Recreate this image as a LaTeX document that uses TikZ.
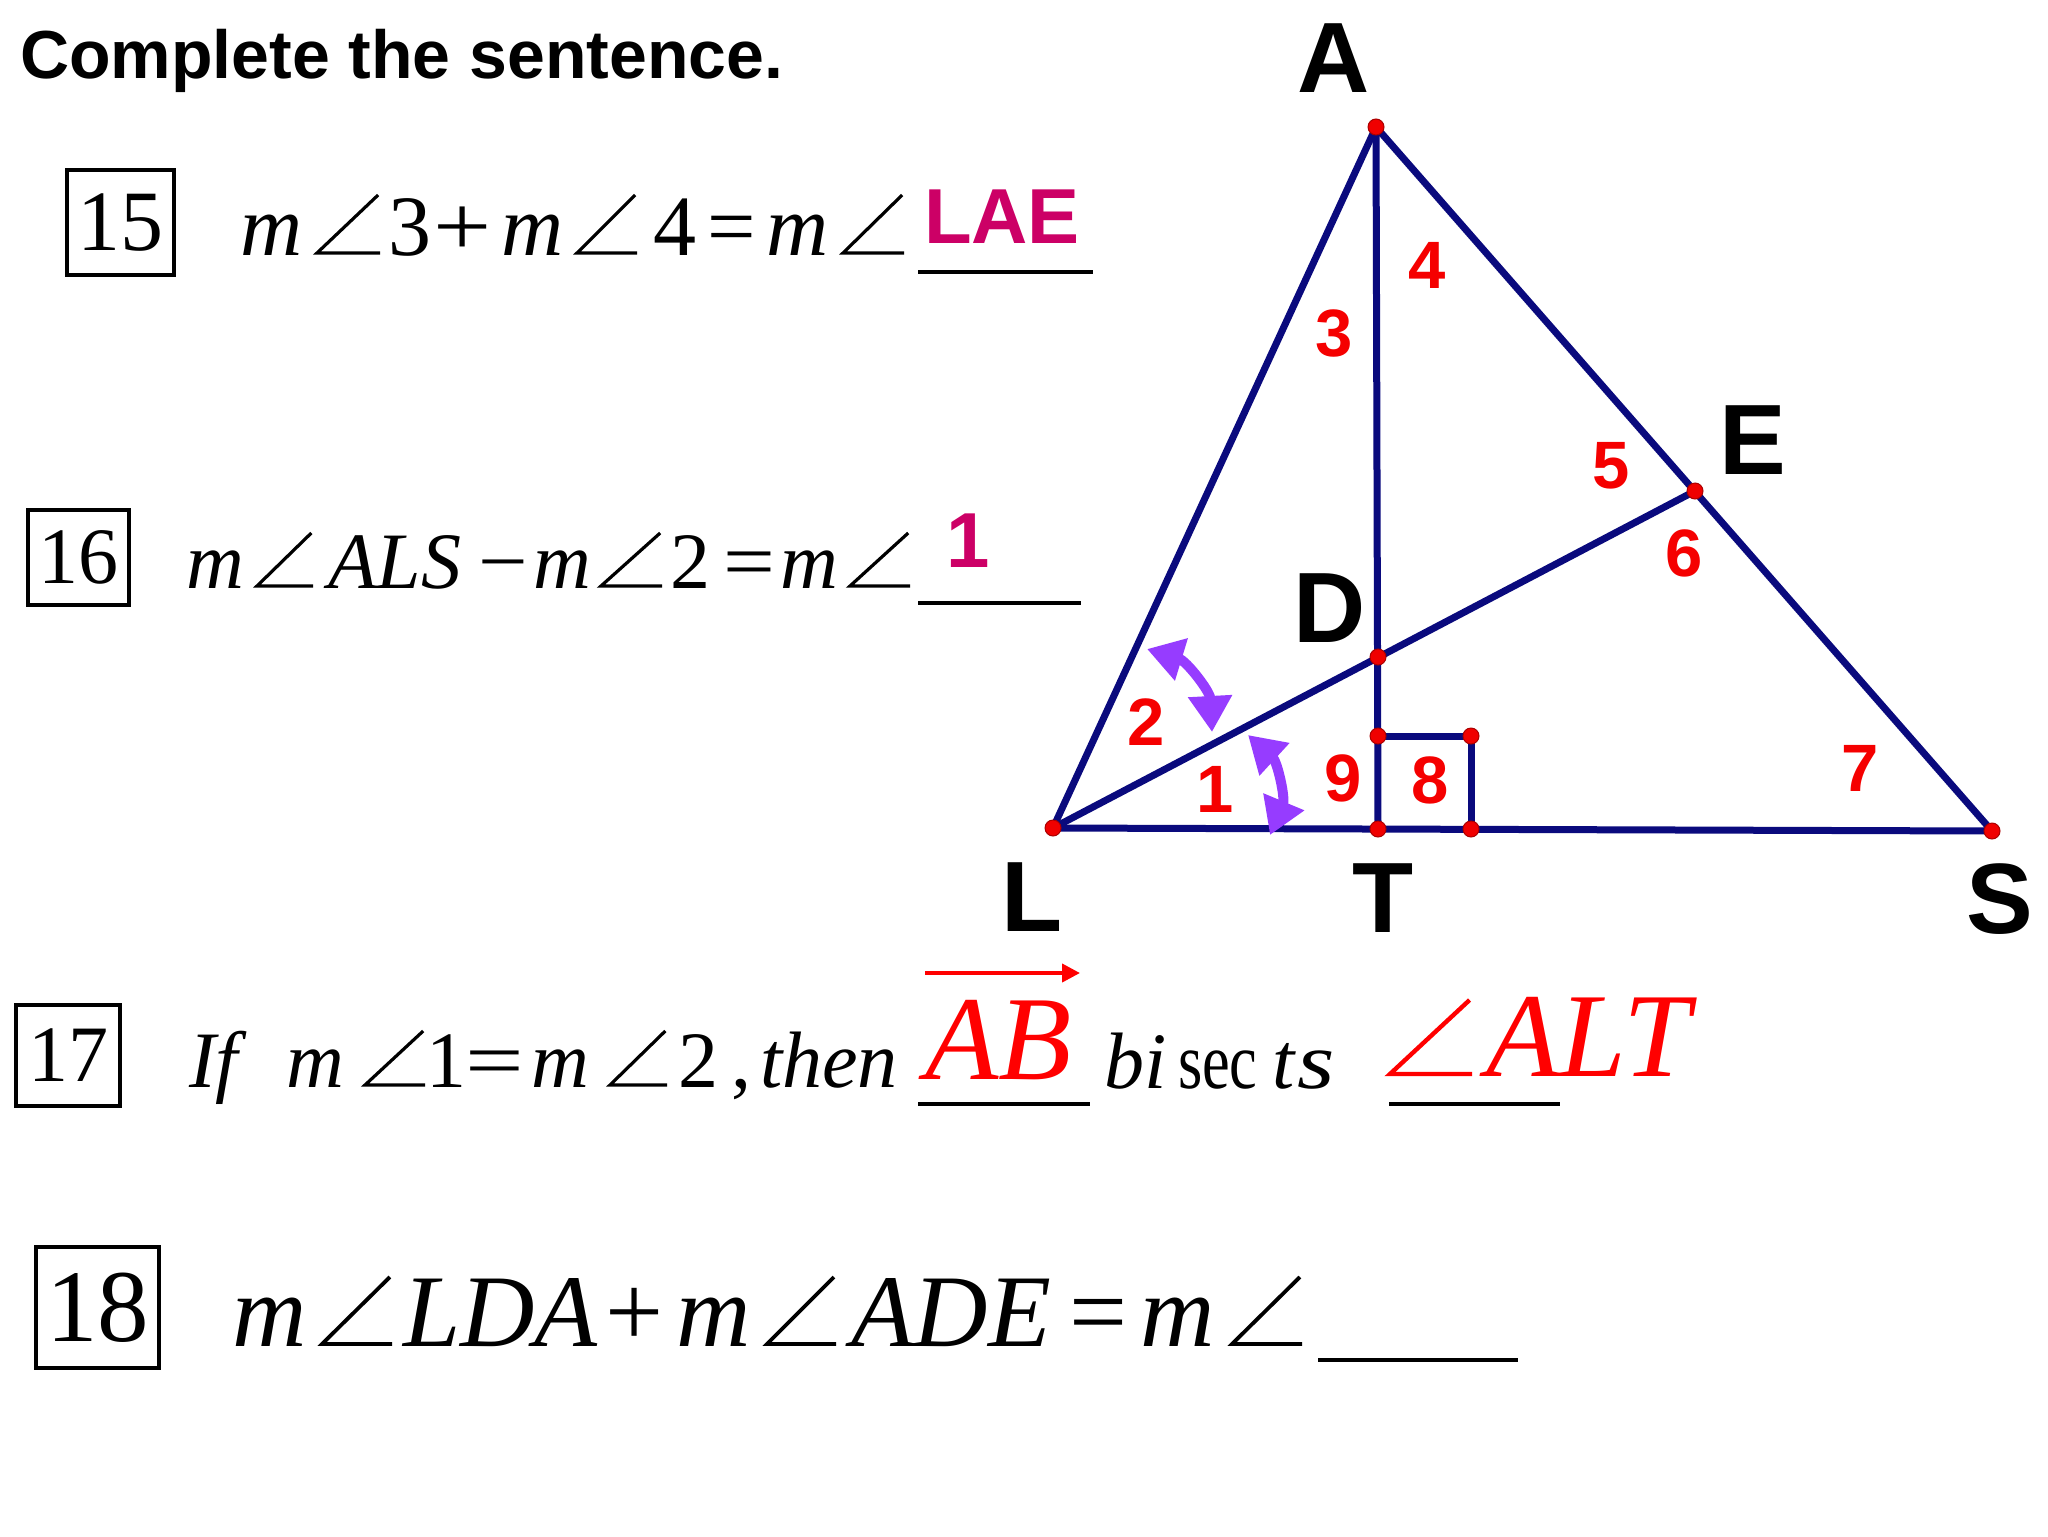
\documentclass[tikz,border=0pt]{standalone}
\usepackage{fontspec}
\usepackage{graphicx}
\setmainfont{Liberation Serif}
\newfontfamily\arialf{Liberation Sans}
\usetikzlibrary{arrows.meta}
\newlength\pxu \setlength\pxu{0.5pt}
\newcommand\fsz[1]{\fontsize{#1}{#1}\selectfont}
% angle sign: name, x, baseline, width, height
\newcommand\angmark[6][]{%
  \coordinate (#2) at (#3,#4);
  \draw[angstroke,#1] (#2) ++(#5,0) -- (#2) -- ++(0.97*#5,-#6);}
\definecolor{navyline}{RGB}{10,10,125}
\definecolor{dotred}{RGB}{240,0,0}
\definecolor{dotedge}{RGB}{170,0,0}
\definecolor{numred}{RGB}{245,0,0}
\definecolor{purparr}{RGB}{150,60,255}
\definecolor{ansmag}{RGB}{204,0,102}
\tikzset{
  seg/.style={draw=navyline, line width=3.5pt, line join=round, line cap=round},
  dotpt/.style={circle, fill=dotred, draw=dotedge, line width=0.5pt, minimum size=8pt, inner sep=0pt},
  ptlab/.style={font=\arialf\bfseries\fsz{50pt}, inner sep=0pt, anchor=base},
  anglab/.style={font=\arialf\bfseries\fsz{33.5pt}, text=numred, inner sep=0pt},
  tk/.style={inner sep=0pt, outer sep=0pt, anchor=base west},
  boxn/.style={draw, line width=2pt, inner sep=0pt},
  uline/.style={line width=2pt},
  angstroke/.style={line width=1.6pt, line join=miter, miter limit=4},
  purparrow/.style={draw=purparr, line width=5pt, {Triangle[length=18pt,width=21pt]}-{Triangle[length=18pt,width=21pt]}},
}
\begin{document}
\begin{tikzpicture}[x=0.5pt, y=-0.5pt]
\useasboundingbox (0,0) rectangle (2048,1536);
\fill[white] (0,0) rectangle (2048,1536);

% title
\node[tk, font=\arialf\bfseries\fsz{34pt}] (title) at (20,79) {Complete the sentence.};

% ---------- geometry ----------
\coordinate (A) at (1376,127);
\coordinate (L) at (1053,828);
\coordinate (T) at (1378,829);
\coordinate (S) at (1992,831);
\coordinate (E) at (1695,491);
\coordinate (D) at (1378,657);
\coordinate (Q1) at (1378,736);
\coordinate (Q2) at (1471,736);
\coordinate (Q3) at (1471,829);

\draw[seg] (A) -- (L) -- (S) -- cycle;
\draw[seg] (A) -- (T);
\draw[seg] (L) -- (E);
\draw[seg] (Q1) -- (Q2) -- (Q3);

\foreach \p in {A,L,T,S,E,D,Q1,Q2,Q3} \node[dotpt] (dot\p) at (\p) {};

% point labels
\node[ptlab] (labA) at (1334,93) {A};
\node[ptlab] (labE) at (1753,474) {E};
\node[ptlab] (labD) at (1330,642) {D};
\node[ptlab] (labT) at (1383,932) {T};
\node[ptlab] (labS) at (2000,933) {S};
\node[ptlab] (labL) at (1032,931) {L};

% angle numbers
\node[anglab] (n1) at (1215,789) {1};
\node[anglab] (n2) at (1146,722) {2};
\node[anglab] (n3) at (1334,333) {3};
\node[anglab] (n4) at (1427,265) {4};
\node[anglab] (n5) at (1611,466) {5};
\node[anglab] (n6) at (1684,553) {6};
\node[anglab] (n7) at (1860,768) {7};
\node[anglab] (n8) at (1430,780) {8};
\node[anglab] (n9) at (1343,778) {9};

% purple double arrows
\coordinate (pa1) at (1147,649);
\coordinate (pa2) at (1212,732);
\coordinate (pb1) at (1248,735);
\coordinate (pb2) at (1270,835);
\draw[purparrow] (pa1) to[bend left=35] (pa2);
\draw[purparrow] (pb1) to[bend left=35] (pb2);

% ---------- row 15 ----------
\node[boxn, minimum width=107\pxu, minimum height=105\pxu, font=\fsz{43pt}] (b15) at (120.5,222.5) {15};
\begin{scope}[every node/.append style={font=\fsz{43pt}}]
\node[tk] (r15a) at (240,255) {\itshape m};
\angmark{r15b}{317}{253}{63}{58}
\node[tk] (r15c) at (388,255) {3};
\node[tk] (r15d) at (433,255) {\scalebox{1.2}[1]{+}};
\node[tk] (r15e) at (501,255) {\itshape m};
\angmark{r15f}{577}{253}{60}{58}
\node[tk] (r15g) at (653,255) {4};
\node[tk] (r15h) at (707,255) {=};
\node[tk] (r15i) at (766,255) {\itshape m};
\angmark{r15j}{843}{253}{61}{58}
\end{scope}
\node[tk, font=\arialf\bfseries\fsz{39pt}, text=ansmag] (ans15) at (924,243) {LAE};
\draw[uline] (918,272) -- (1093,272);

% ---------- row 16 ----------
\node[boxn, minimum width=101\pxu, minimum height=95\pxu, font=\fsz{40pt}] (b16) at (78.5,557.5) {16};
\begin{scope}[every node/.append style={font=\fsz{40pt}}]
\node[tk] (r16a) at (186,588) {\itshape m};
\angmark{r16b}{257}{586}{56}{53}
\node[tk] (r16c) at (328,588) {\itshape ALS};
\node[tk] (r16d) at (478,588) {\scalebox{1.1}[1]{−}};
\node[tk] (r16e) at (533,588) {\itshape m};
\angmark{r16f}{601}{586}{61}{53}
\node[tk] (r16g) at (670,588) {2};
\node[tk] (r16h) at (723,588) {\scalebox{1.15}[1]{=}};
\node[tk] (r16i) at (780,588) {\itshape m};
\angmark{r16j}{850}{586}{60}{53}
\end{scope}
\node[tk, font=\arialf\bfseries\fsz{39pt}, text=ansmag] (ans16) at (946,567) {1};
\draw[uline] (918,603) -- (1081,603);

% ---------- row 17 ----------
\node[boxn, minimum width=104\pxu, minimum height=101\pxu, font=\fsz{40pt}] (b17) at (68,1055.5) {17};
\begin{scope}[every node/.append style={font=\fsz{40pt}}]
\node[tk] (r17a) at (189,1087) {\itshape If};
\node[tk] (r17b) at (286,1087) {\itshape m};
\angmark{r17c}{365}{1085}{60}{54}
\node[tk] (r17d) at (426,1087) {1};
\node[tk] (r17e) at (465,1087) {\scalebox{1.3}[1]{=}};
\node[tk] (r17f) at (531,1087) {\itshape m};
\angmark{r17g}{610}{1085}{57}{54}
\node[tk] (r17h) at (678,1087) {2};
\node[tk] (r17i) at (731,1087) {,};
\node[tk] (r17j) at (760,1087) {\itshape then};
\node[tk] (r17k) at (1104,1088) {\itshape bi};
\node[tk] (r17l) at (1178,1088) {\scalebox{0.78}[1]{sec}};
\node[tk] (r17m) at (1272,1088) {\itshape t};
\node[tk] (r17n) at (1297,1088) {\itshape\scalebox{1.2}[1]{s}};
\end{scope}
\node[tk, font=\fsz{60pt}\itshape, text=red] (ans17a) at (925,1079) {AB};
\draw[red, line width=2pt, -{Triangle[length=9pt,width=9pt]}] (925,973) -- (1080,973);
\draw[uline] (918,1104) -- (1090,1104);
\angmark[draw=red, line width=2.2pt]{ans17b}{1390}{1074}{82}{74}
\node[tk, font=\fsz{60pt}\itshape, text=red] (ans17c) at (1486,1076) {ALT};
\draw[uline] (1389,1104) -- (1560,1104);

% ---------- row 18 ----------
\node[boxn, minimum width=123\pxu, minimum height=121\pxu, font=\fsz{51.5pt}] (b18) at (97.5,1307.5) {18};
\begin{scope}[every node/.append style={font=\fsz{51.5pt}}]
\node[tk] (r18a) at (232,1346) {\itshape m};
\angmark[line width=1.9pt]{r18b}{322}{1344}{70}{67}
\node[tk] (r18c) at (403,1346) {\itshape LDA};
\node[tk] (r18d) at (605,1346) {+};
\node[tk] (r18e) at (676,1346) {\itshape m};
\angmark[line width=1.9pt]{r18f}{767}{1344}{69}{67}
\node[tk] (r18g) at (851,1346) {\itshape ADE};
\node[tk] (r18h) at (1069,1346) {=};
\node[tk] (r18i) at (1140,1346) {\itshape m};
\angmark[line width=1.9pt]{r18j}{1232}{1344}{70}{67}
\end{scope}
\draw[uline] (1318,1360) -- (1518,1360);
\end{tikzpicture}
\end{document}
